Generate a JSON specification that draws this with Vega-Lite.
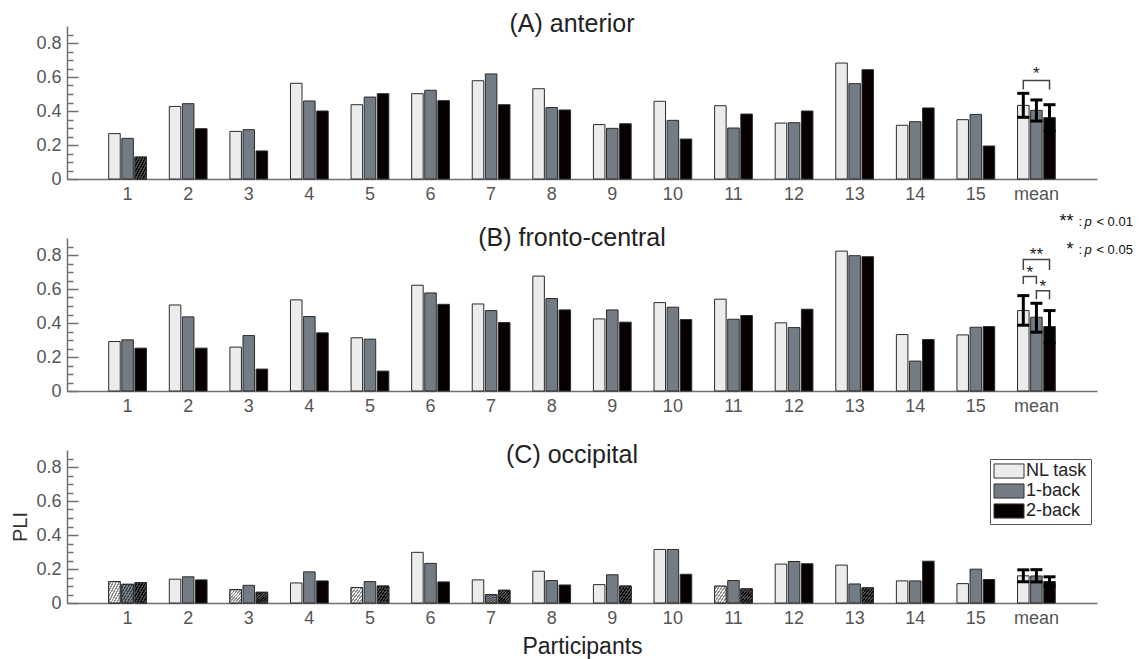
{
  "$schema": "https://vega.github.io/schema/vega-lite/v6.json",
  "padding": {"left": 10, "top": 12, "right": 5, "bottom": 3},
  "bounds": "flush",
  "spacing": 59,
  "resolve": {"scale": {"fill": "independent"}, "legend": {"fill": "independent"}},
  "config": {
    "view": {"stroke": null},
    "font": "Liberation Sans",
    "axis": {"labelFont": "Liberation Sans", "titleFont": "Liberation Sans", "titleFontWeight": "normal", "grid": false, "labelOverlap": false},
    "title": {"font": "Liberation Sans", "fontSize": 25, "fontWeight": "normal", "color": "#222222", "anchor": "middle", "frame": "group", "dx": -10}
  },
  "datasets": {
    "bars": [
      {"panel":"A","p":"1","cond":"NL task","v":0.267},{"panel":"A","p":"1","cond":"1-back","v":0.239},{"panel":"A","p":"1","cond":"2-back","v":0.129,"h":1},
      {"panel":"A","p":"2","cond":"NL task","v":0.427},{"panel":"A","p":"2","cond":"1-back","v":0.443},{"panel":"A","p":"2","cond":"2-back","v":0.296},
      {"panel":"A","p":"3","cond":"NL task","v":0.280},{"panel":"A","p":"3","cond":"1-back","v":0.290},{"panel":"A","p":"3","cond":"2-back","v":0.165},
      {"panel":"A","p":"4","cond":"NL task","v":0.563},{"panel":"A","p":"4","cond":"1-back","v":0.459},{"panel":"A","p":"4","cond":"2-back","v":0.400},
      {"panel":"A","p":"5","cond":"NL task","v":0.437},{"panel":"A","p":"5","cond":"1-back","v":0.482},{"panel":"A","p":"5","cond":"2-back","v":0.502},
      {"panel":"A","p":"6","cond":"NL task","v":0.502},{"panel":"A","p":"6","cond":"1-back","v":0.522},{"panel":"A","p":"6","cond":"2-back","v":0.461},
      {"panel":"A","p":"7","cond":"NL task","v":0.578},{"panel":"A","p":"7","cond":"1-back","v":0.618},{"panel":"A","p":"7","cond":"2-back","v":0.437},
      {"panel":"A","p":"8","cond":"NL task","v":0.531},{"panel":"A","p":"8","cond":"1-back","v":0.420},{"panel":"A","p":"8","cond":"2-back","v":0.406},
      {"panel":"A","p":"9","cond":"NL task","v":0.320},{"panel":"A","p":"9","cond":"1-back","v":0.298},{"panel":"A","p":"9","cond":"2-back","v":0.325},
      {"panel":"A","p":"10","cond":"NL task","v":0.457},{"panel":"A","p":"10","cond":"1-back","v":0.345},{"panel":"A","p":"10","cond":"2-back","v":0.235},
      {"panel":"A","p":"11","cond":"NL task","v":0.431},{"panel":"A","p":"11","cond":"1-back","v":0.300},{"panel":"A","p":"11","cond":"2-back","v":0.382},
      {"panel":"A","p":"12","cond":"NL task","v":0.329},{"panel":"A","p":"12","cond":"1-back","v":0.331},{"panel":"A","p":"12","cond":"2-back","v":0.400},
      {"panel":"A","p":"13","cond":"NL task","v":0.682},{"panel":"A","p":"13","cond":"1-back","v":0.561},{"panel":"A","p":"13","cond":"2-back","v":0.643},
      {"panel":"A","p":"14","cond":"NL task","v":0.316},{"panel":"A","p":"14","cond":"1-back","v":0.337},{"panel":"A","p":"14","cond":"2-back","v":0.418},
      {"panel":"A","p":"15","cond":"NL task","v":0.349},{"panel":"A","p":"15","cond":"1-back","v":0.380},{"panel":"A","p":"15","cond":"2-back","v":0.194},
      {"panel":"A","p":"mean","cond":"NL task","v":0.433},{"panel":"A","p":"mean","cond":"1-back","v":0.404},{"panel":"A","p":"mean","cond":"2-back","v":0.361},
      {"panel":"B","p":"1","cond":"NL task","v":0.291},{"panel":"B","p":"1","cond":"1-back","v":0.301},{"panel":"B","p":"1","cond":"2-back","v":0.252},
      {"panel":"B","p":"2","cond":"NL task","v":0.506},{"panel":"B","p":"2","cond":"1-back","v":0.436},{"panel":"B","p":"2","cond":"2-back","v":0.252},
      {"panel":"B","p":"3","cond":"NL task","v":0.258},{"panel":"B","p":"3","cond":"1-back","v":0.326},{"panel":"B","p":"3","cond":"2-back","v":0.129},
      {"panel":"B","p":"4","cond":"NL task","v":0.536},{"panel":"B","p":"4","cond":"1-back","v":0.438},{"panel":"B","p":"4","cond":"2-back","v":0.342},
      {"panel":"B","p":"5","cond":"NL task","v":0.313},{"panel":"B","p":"5","cond":"1-back","v":0.305},{"panel":"B","p":"5","cond":"2-back","v":0.117},
      {"panel":"B","p":"6","cond":"NL task","v":0.622},{"panel":"B","p":"6","cond":"1-back","v":0.577},{"panel":"B","p":"6","cond":"2-back","v":0.510},
      {"panel":"B","p":"7","cond":"NL task","v":0.512},{"panel":"B","p":"7","cond":"1-back","v":0.473},{"panel":"B","p":"7","cond":"2-back","v":0.403},
      {"panel":"B","p":"8","cond":"NL task","v":0.676},{"panel":"B","p":"8","cond":"1-back","v":0.544},{"panel":"B","p":"8","cond":"2-back","v":0.477},
      {"panel":"B","p":"9","cond":"NL task","v":0.424},{"panel":"B","p":"9","cond":"1-back","v":0.477},{"panel":"B","p":"9","cond":"2-back","v":0.405},
      {"panel":"B","p":"10","cond":"NL task","v":0.520},{"panel":"B","p":"10","cond":"1-back","v":0.493},{"panel":"B","p":"10","cond":"2-back","v":0.420},
      {"panel":"B","p":"11","cond":"NL task","v":0.540},{"panel":"B","p":"11","cond":"1-back","v":0.422},{"panel":"B","p":"11","cond":"2-back","v":0.444},
      {"panel":"B","p":"12","cond":"NL task","v":0.401},{"panel":"B","p":"12","cond":"1-back","v":0.373},{"panel":"B","p":"12","cond":"2-back","v":0.481},
      {"panel":"B","p":"13","cond":"NL task","v":0.823},{"panel":"B","p":"13","cond":"1-back","v":0.796},{"panel":"B","p":"13","cond":"2-back","v":0.790},
      {"panel":"B","p":"14","cond":"NL task","v":0.332},{"panel":"B","p":"14","cond":"1-back","v":0.176},{"panel":"B","p":"14","cond":"2-back","v":0.303},
      {"panel":"B","p":"15","cond":"NL task","v":0.330},{"panel":"B","p":"15","cond":"1-back","v":0.375},{"panel":"B","p":"15","cond":"2-back","v":0.379},
      {"panel":"B","p":"mean","cond":"NL task","v":0.473},{"panel":"B","p":"mean","cond":"1-back","v":0.434},{"panel":"B","p":"mean","cond":"2-back","v":0.379},
      {"panel":"C","p":"1","cond":"NL task","v":0.126,"h":1},{"panel":"C","p":"1","cond":"1-back","v":0.110,"h":1},{"panel":"C","p":"1","cond":"2-back","v":0.120,"h":1},
      {"panel":"C","p":"2","cond":"NL task","v":0.140},{"panel":"C","p":"2","cond":"1-back","v":0.154},{"panel":"C","p":"2","cond":"2-back","v":0.136},
      {"panel":"C","p":"3","cond":"NL task","v":0.079,"h":1},{"panel":"C","p":"3","cond":"1-back","v":0.104},{"panel":"C","p":"3","cond":"2-back","v":0.063,"h":1},
      {"panel":"C","p":"4","cond":"NL task","v":0.118},{"panel":"C","p":"4","cond":"1-back","v":0.183},{"panel":"C","p":"4","cond":"2-back","v":0.130},
      {"panel":"C","p":"5","cond":"NL task","v":0.091,"h":1},{"panel":"C","p":"5","cond":"1-back","v":0.126},{"panel":"C","p":"5","cond":"2-back","v":0.100,"h":1},
      {"panel":"C","p":"6","cond":"NL task","v":0.298},{"panel":"C","p":"6","cond":"1-back","v":0.233},{"panel":"C","p":"6","cond":"2-back","v":0.124},
      {"panel":"C","p":"7","cond":"NL task","v":0.136},{"panel":"C","p":"7","cond":"1-back","v":0.049,"h":1},{"panel":"C","p":"7","cond":"2-back","v":0.075,"h":1},
      {"panel":"C","p":"8","cond":"NL task","v":0.187},{"panel":"C","p":"8","cond":"1-back","v":0.132},{"panel":"C","p":"8","cond":"2-back","v":0.106},
      {"panel":"C","p":"9","cond":"NL task","v":0.108},{"panel":"C","p":"9","cond":"1-back","v":0.166},{"panel":"C","p":"9","cond":"2-back","v":0.100,"h":1},
      {"panel":"C","p":"10","cond":"NL task","v":0.315},{"panel":"C","p":"10","cond":"1-back","v":0.315},{"panel":"C","p":"10","cond":"2-back","v":0.169},
      {"panel":"C","p":"11","cond":"NL task","v":0.099,"h":1},{"panel":"C","p":"11","cond":"1-back","v":0.132},{"panel":"C","p":"11","cond":"2-back","v":0.083,"h":1},
      {"panel":"C","p":"12","cond":"NL task","v":0.229},{"panel":"C","p":"12","cond":"1-back","v":0.244},{"panel":"C","p":"12","cond":"2-back","v":0.231},
      {"panel":"C","p":"13","cond":"NL task","v":0.223},{"panel":"C","p":"13","cond":"1-back","v":0.112},{"panel":"C","p":"13","cond":"2-back","v":0.089,"h":1},
      {"panel":"C","p":"14","cond":"NL task","v":0.130},{"panel":"C","p":"14","cond":"1-back","v":0.130},{"panel":"C","p":"14","cond":"2-back","v":0.246},
      {"panel":"C","p":"15","cond":"NL task","v":0.114},{"panel":"C","p":"15","cond":"1-back","v":0.199},{"panel":"C","p":"15","cond":"2-back","v":0.138},
      {"panel":"C","p":"mean","cond":"NL task","v":0.160},{"panel":"C","p":"mean","cond":"1-back","v":0.159},{"panel":"C","p":"mean","cond":"2-back","v":0.127}
    ],
    "err": [
      {"panel":"A","p":"mean","cond":"NL task","lo":0.363,"hi":0.504},
      {"panel":"A","p":"mean","cond":"1-back","lo":0.341,"hi":0.465},
      {"panel":"A","p":"mean","cond":"2-back","lo":0.282,"hi":0.437},
      {"panel":"B","p":"mean","cond":"NL task","lo":0.387,"hi":0.561},
      {"panel":"B","p":"mean","cond":"1-back","lo":0.346,"hi":0.516},
      {"panel":"B","p":"mean","cond":"2-back","lo":0.285,"hi":0.473},
      {"panel":"C","p":"mean","cond":"NL task","lo":0.125,"hi":0.195},
      {"panel":"C","p":"mean","cond":"1-back","lo":0.124,"hi":0.196},
      {"panel":"C","p":"mean","cond":"2-back","lo":0.100,"hi":0.154}
    ],
    "brackets": [
      {"panel":"A","id":"a1","p":"mean","cond":"NL task","y":0.526,"ord":1},
      {"panel":"A","id":"a1","p":"mean","cond":"NL task","y":0.579,"ord":2},
      {"panel":"A","id":"a1","p":"mean","cond":"2-back","y":0.579,"ord":3},
      {"panel":"A","id":"a1","p":"mean","cond":"2-back","y":0.526,"ord":4},
      {"panel":"B","id":"b1","p":"mean","cond":"NL task","y":0.712,"ord":1},
      {"panel":"B","id":"b1","p":"mean","cond":"NL task","y":0.774,"ord":2},
      {"panel":"B","id":"b1","p":"mean","cond":"2-back","y":0.774,"ord":3},
      {"panel":"B","id":"b1","p":"mean","cond":"2-back","y":0.712,"ord":4},
      {"panel":"B","id":"b2","p":"mean","cond":"NL task","y":0.630,"ord":1},
      {"panel":"B","id":"b2","p":"mean","cond":"NL task","y":0.674,"ord":2},
      {"panel":"B","id":"b2","p":"mean","cond":"1-back","y":0.674,"ord":3},
      {"panel":"B","id":"b2","p":"mean","cond":"1-back","y":0.630,"ord":4},
      {"panel":"B","id":"b3","p":"mean","cond":"1-back","y":0.540,"ord":1},
      {"panel":"B","id":"b3","p":"mean","cond":"1-back","y":0.590,"ord":2},
      {"panel":"B","id":"b3","p":"mean","cond":"2-back","y":0.590,"ord":3},
      {"panel":"B","id":"b3","p":"mean","cond":"2-back","y":0.540,"ord":4}
    ],
    "stars": [
      {"panel":"A","p":"mean","cond":"1-back","y":0.615,"s":"*","between":0},
      {"panel":"B","p":"mean","cond":"1-back","y":0.800,"s":"**","between":0},
      {"panel":"B","p":"mean","cond":"NL task","y":0.697,"s":"*","between":1},
      {"panel":"B","p":"mean","cond":"1-back","y":0.610,"s":"*","between":1}
    ],
    "notes": [
      {"p":"mean","s":"**","r":"< 0.01","y":-0.255},
      {"p":"mean","s":"*","r":"< 0.05","y":-0.42}
    ]
  },
  "vconcat": [
    {
      "width": 1030, "height": 153,
      "title": {"text": "(A) anterior", "offset": -11},
      "resolve": {"axis": {"y": "independent"}},
      "layer": [
        {
          "data": {"name": "bars"},
          "transform": [{"filter": "datum.panel === 'A'"}],
          "mark": {"type": "bar", "stroke": "#2b2b2b", "strokeWidth": 1},
          "encoding": {
            "x": {"field": "p", "type": "nominal", "scale": {"domain": ["1","2","3","4","5","6","7","8","9","10","11","12","13","14","15","mean"], "paddingInner": 0.377, "paddingOuter": 0.6885},
              "axis": {"title": null, "ticks": false, "labelAngle": 0, "labelPadding": 6, "labelFontSize": 18, "labelColor": "#555555", "domainColor": "#707070", "domainWidth": 1.5}},
            "xOffset": {"field": "cond", "type": "nominal", "scale": {"domain": ["NL task","1-back","2-back"], "paddingInner": 0.12}},
            "y": {"field": "v", "type": "quantitative", "scale": {"domain": [0, 0.9], "nice": false},
              "axis": {"title": null, "orient": "left", "values": [0,0.2,0.4,0.6,0.8], "format": "~g", "tickSize": -11,
                "tickColor": "#707070", "tickWidth": 1.5, "domainColor": "#707070", "domainWidth": 1.5, "labelPadding": 17, "labelFontSize": 18, "labelColor": "#555555"}},
            "fill": {"field": "cond", "type": "nominal", "scale": {"domain": ["NL task","1-back","2-back"], "range": ["#ececec","#737c84","#060000"]}, "legend": null}
          }
        },
        {
          "data": {"name": "bars"},
          "transform": [{"filter": "datum.panel === 'A' && datum.h === 1"}],
          "mark": {"type": "bar", "stroke": "#2b2b2b", "strokeWidth": 1},
          "encoding": {
            "x": {"field": "p", "type": "nominal"},
            "xOffset": {"field": "cond", "type": "nominal"},
            "y": {"field": "v", "type": "quantitative", "axis": null},
            "fill": {"condition": [
              {"test": "datum.cond === 'NL task'", "value": {"gradient":"linear","x1":0,"y1":0,"x2":1,"y2":1,"stops":[{"offset":0,"color":"#efefef"},{"offset":0.0625,"color":"#efefef"},{"offset":0.0625,"color":"#8e8e8e"},{"offset":0.125,"color":"#8e8e8e"},{"offset":0.125,"color":"#efefef"},{"offset":0.1875,"color":"#efefef"},{"offset":0.1875,"color":"#8e8e8e"},{"offset":0.25,"color":"#8e8e8e"},{"offset":0.25,"color":"#efefef"},{"offset":0.3125,"color":"#efefef"},{"offset":0.3125,"color":"#8e8e8e"},{"offset":0.375,"color":"#8e8e8e"},{"offset":0.375,"color":"#efefef"},{"offset":0.4375,"color":"#efefef"},{"offset":0.4375,"color":"#8e8e8e"},{"offset":0.5,"color":"#8e8e8e"},{"offset":0.5,"color":"#efefef"},{"offset":0.5625,"color":"#efefef"},{"offset":0.5625,"color":"#8e8e8e"},{"offset":0.625,"color":"#8e8e8e"},{"offset":0.625,"color":"#efefef"},{"offset":0.6875,"color":"#efefef"},{"offset":0.6875,"color":"#8e8e8e"},{"offset":0.75,"color":"#8e8e8e"},{"offset":0.75,"color":"#efefef"},{"offset":0.8125,"color":"#efefef"},{"offset":0.8125,"color":"#8e8e8e"},{"offset":0.875,"color":"#8e8e8e"},{"offset":0.875,"color":"#efefef"},{"offset":0.9375,"color":"#efefef"},{"offset":0.9375,"color":"#8e8e8e"},{"offset":1,"color":"#8e8e8e"}]}},
              {"test": "datum.cond === '1-back'", "value": {"gradient":"linear","x1":0,"y1":0,"x2":1,"y2":1,"stops":[{"offset":0,"color":"#7b848c"},{"offset":0.0625,"color":"#7b848c"},{"offset":0.0625,"color":"#40454a"},{"offset":0.125,"color":"#40454a"},{"offset":0.125,"color":"#7b848c"},{"offset":0.1875,"color":"#7b848c"},{"offset":0.1875,"color":"#40454a"},{"offset":0.25,"color":"#40454a"},{"offset":0.25,"color":"#7b848c"},{"offset":0.3125,"color":"#7b848c"},{"offset":0.3125,"color":"#40454a"},{"offset":0.375,"color":"#40454a"},{"offset":0.375,"color":"#7b848c"},{"offset":0.4375,"color":"#7b848c"},{"offset":0.4375,"color":"#40454a"},{"offset":0.5,"color":"#40454a"},{"offset":0.5,"color":"#7b848c"},{"offset":0.5625,"color":"#7b848c"},{"offset":0.5625,"color":"#40454a"},{"offset":0.625,"color":"#40454a"},{"offset":0.625,"color":"#7b848c"},{"offset":0.6875,"color":"#7b848c"},{"offset":0.6875,"color":"#40454a"},{"offset":0.75,"color":"#40454a"},{"offset":0.75,"color":"#7b848c"},{"offset":0.8125,"color":"#7b848c"},{"offset":0.8125,"color":"#40454a"},{"offset":0.875,"color":"#40454a"},{"offset":0.875,"color":"#7b848c"},{"offset":0.9375,"color":"#7b848c"},{"offset":0.9375,"color":"#40454a"},{"offset":1,"color":"#40454a"}]}}
            ], "value": {"gradient":"linear","x1":0,"y1":0,"x2":1,"y2":1,"stops":[{"offset":0,"color":"#4d4d4d"},{"offset":0.0625,"color":"#4d4d4d"},{"offset":0.0625,"color":"#0a0a0a"},{"offset":0.125,"color":"#0a0a0a"},{"offset":0.125,"color":"#4d4d4d"},{"offset":0.1875,"color":"#4d4d4d"},{"offset":0.1875,"color":"#0a0a0a"},{"offset":0.25,"color":"#0a0a0a"},{"offset":0.25,"color":"#4d4d4d"},{"offset":0.3125,"color":"#4d4d4d"},{"offset":0.3125,"color":"#0a0a0a"},{"offset":0.375,"color":"#0a0a0a"},{"offset":0.375,"color":"#4d4d4d"},{"offset":0.4375,"color":"#4d4d4d"},{"offset":0.4375,"color":"#0a0a0a"},{"offset":0.5,"color":"#0a0a0a"},{"offset":0.5,"color":"#4d4d4d"},{"offset":0.5625,"color":"#4d4d4d"},{"offset":0.5625,"color":"#0a0a0a"},{"offset":0.625,"color":"#0a0a0a"},{"offset":0.625,"color":"#4d4d4d"},{"offset":0.6875,"color":"#4d4d4d"},{"offset":0.6875,"color":"#0a0a0a"},{"offset":0.75,"color":"#0a0a0a"},{"offset":0.75,"color":"#4d4d4d"},{"offset":0.8125,"color":"#4d4d4d"},{"offset":0.8125,"color":"#0a0a0a"},{"offset":0.875,"color":"#0a0a0a"},{"offset":0.875,"color":"#4d4d4d"},{"offset":0.9375,"color":"#4d4d4d"},{"offset":0.9375,"color":"#0a0a0a"},{"offset":1,"color":"#0a0a0a"}]}}
          }
        },
        {
          "data": {"name": "err"},
          "transform": [{"filter": "datum.panel === 'A'"}],
          "mark": {"type": "rule", "color": "#000000", "strokeWidth": 3},
          "encoding": {
            "x": {"field": "p", "type": "nominal"},
            "xOffset": {"field": "cond", "type": "nominal"},
            "y": {"field": "lo", "type": "quantitative",
              "axis": {"title": null, "orient": "left", "values": [0.05,0.1,0.15,0.25,0.3,0.35,0.45,0.5,0.55,0.65,0.7,0.75,0.85], "labels": false, "domain": false, "tickSize": -6, "tickColor": "#707070", "tickWidth": 1.5}},
            "y2": {"field": "hi"}
          }
        },
        {
          "data": {"name": "err"},
          "transform": [{"filter": "datum.panel === 'A'"}],
          "mark": {"type": "tick", "color": "#000000", "thickness": 3, "size": 12, "opacity": 1},
          "encoding": {
            "x": {"field": "p", "type": "nominal"},
            "xOffset": {"field": "cond", "type": "nominal"},
            "y": {"field": "hi", "type": "quantitative", "axis": null}
          }
        },
        {
          "data": {"name": "err"},
          "transform": [{"filter": "datum.panel === 'A'"}],
          "mark": {"type": "tick", "color": "#000000", "thickness": 3, "size": 12, "opacity": 1},
          "encoding": {
            "x": {"field": "p", "type": "nominal"},
            "xOffset": {"field": "cond", "type": "nominal"},
            "y": {"field": "lo", "type": "quantitative", "axis": null}
          }
        },
        {
          "data": {"name": "brackets"},
          "transform": [{"filter": "datum.panel === 'A'"}],
          "mark": {"type": "line", "color": "#444444", "strokeWidth": 1.5},
          "encoding": {
            "x": {"field": "p", "type": "nominal"},
            "xOffset": {"field": "cond", "type": "nominal"},
            "y": {"field": "y", "type": "quantitative", "axis": null},
            "detail": {"field": "id"},
            "order": {"field": "ord"}
          }
        },
        {
          "data": {"name": "stars"},
          "transform": [{"filter": "datum.panel === 'A'"}],
          "mark": {"type": "text", "fontSize": 17, "color": "#222222", "baseline": "middle"},
          "encoding": {
            "x": {"field": "p", "type": "nominal"},
            "xOffset": {"field": "cond", "type": "nominal"},
            "y": {"field": "y", "type": "quantitative", "axis": null},
            "text": {"field": "s"}
          }
        },
        {
          "data": {"name": "notes"},
          "mark": {"type": "text", "fontSize": 18, "color": "#111111", "baseline": "middle", "align": "right", "dx": 37},
          "encoding": {
            "x": {"field": "p", "type": "nominal"},
            "y": {"field": "y", "type": "quantitative", "axis": null},
            "text": {"field": "s"}
          }
        },
        {
          "data": {"name": "notes"},
          "mark": {"type": "text", "fontSize": 13, "color": "#111111", "baseline": "middle", "align": "left", "dx": 42, "text": ":"},
          "encoding": {
            "x": {"field": "p", "type": "nominal"},
            "y": {"field": "y", "type": "quantitative", "axis": null}
          }
        },
        {
          "data": {"name": "notes"},
          "mark": {"type": "text", "fontSize": 13, "fontStyle": "italic", "color": "#111111", "baseline": "middle", "align": "left", "dx": 48, "text": "p"},
          "encoding": {
            "x": {"field": "p", "type": "nominal"},
            "y": {"field": "y", "type": "quantitative", "axis": null}
          }
        },
        {
          "data": {"name": "notes"},
          "mark": {"type": "text", "fontSize": 13, "color": "#111111", "baseline": "middle", "align": "left", "dx": 60},
          "encoding": {
            "x": {"field": "p", "type": "nominal"},
            "y": {"field": "y", "type": "quantitative", "axis": null},
            "text": {"field": "r"}
          }
        }
      ]
    },
    {
      "width": 1030, "height": 153,
      "title": {"text": "(B) fronto-central", "offset": -13},
      "resolve": {"axis": {"y": "independent"}},
      "layer": [
        {
          "data": {"name": "bars"},
          "transform": [{"filter": "datum.panel === 'B'"}],
          "mark": {"type": "bar", "stroke": "#2b2b2b", "strokeWidth": 1},
          "encoding": {
            "x": {"field": "p", "type": "nominal", "scale": {"domain": ["1","2","3","4","5","6","7","8","9","10","11","12","13","14","15","mean"], "paddingInner": 0.377, "paddingOuter": 0.6885},
              "axis": {"title": null, "ticks": false, "labelAngle": 0, "labelPadding": 6, "labelFontSize": 18, "labelColor": "#555555", "domainColor": "#707070", "domainWidth": 1.5}},
            "xOffset": {"field": "cond", "type": "nominal", "scale": {"domain": ["NL task","1-back","2-back"], "paddingInner": 0.12}},
            "y": {"field": "v", "type": "quantitative", "scale": {"domain": [0, 0.9], "nice": false},
              "axis": {"title": null, "orient": "left", "values": [0,0.2,0.4,0.6,0.8], "format": "~g", "tickSize": -11,
                "tickColor": "#707070", "tickWidth": 1.5, "domainColor": "#707070", "domainWidth": 1.5, "labelPadding": 17, "labelFontSize": 18, "labelColor": "#555555"}},
            "fill": {"field": "cond", "type": "nominal", "scale": {"domain": ["NL task","1-back","2-back"], "range": ["#ececec","#737c84","#060000"]}, "legend": null}
          }
        },
        {
          "data": {"name": "err"},
          "transform": [{"filter": "datum.panel === 'B'"}],
          "mark": {"type": "rule", "color": "#000000", "strokeWidth": 3},
          "encoding": {
            "x": {"field": "p", "type": "nominal"},
            "xOffset": {"field": "cond", "type": "nominal"},
            "y": {"field": "lo", "type": "quantitative",
              "axis": {"title": null, "orient": "left", "values": [0.05,0.1,0.15,0.25,0.3,0.35,0.45,0.5,0.55,0.65,0.7,0.75,0.85], "labels": false, "domain": false, "tickSize": -6, "tickColor": "#707070", "tickWidth": 1.5}},
            "y2": {"field": "hi"}
          }
        },
        {
          "data": {"name": "err"},
          "transform": [{"filter": "datum.panel === 'B'"}],
          "mark": {"type": "tick", "color": "#000000", "thickness": 3, "size": 12, "opacity": 1},
          "encoding": {
            "x": {"field": "p", "type": "nominal"},
            "xOffset": {"field": "cond", "type": "nominal"},
            "y": {"field": "hi", "type": "quantitative", "axis": null}
          }
        },
        {
          "data": {"name": "err"},
          "transform": [{"filter": "datum.panel === 'B'"}],
          "mark": {"type": "tick", "color": "#000000", "thickness": 3, "size": 12, "opacity": 1},
          "encoding": {
            "x": {"field": "p", "type": "nominal"},
            "xOffset": {"field": "cond", "type": "nominal"},
            "y": {"field": "lo", "type": "quantitative", "axis": null}
          }
        },
        {
          "data": {"name": "brackets"},
          "transform": [{"filter": "datum.panel === 'B'"}],
          "mark": {"type": "line", "color": "#444444", "strokeWidth": 1.5},
          "encoding": {
            "x": {"field": "p", "type": "nominal"},
            "xOffset": {"field": "cond", "type": "nominal"},
            "y": {"field": "y", "type": "quantitative", "axis": null},
            "detail": {"field": "id"},
            "order": {"field": "ord"}
          }
        },
        {
          "data": {"name": "stars"},
          "transform": [{"filter": "datum.panel === 'B' && datum.between === 0"}],
          "mark": {"type": "text", "fontSize": 17, "color": "#222222", "baseline": "middle"},
          "encoding": {
            "x": {"field": "p", "type": "nominal"},
            "xOffset": {"field": "cond", "type": "nominal"},
            "y": {"field": "y", "type": "quantitative", "axis": null},
            "text": {"field": "s"}
          }
        },
        {
          "data": {"name": "stars"},
          "transform": [{"filter": "datum.panel === 'B' && datum.between === 1"}],
          "mark": {"type": "text", "fontSize": 17, "color": "#222222", "baseline": "middle", "dx": 6.5},
          "encoding": {
            "x": {"field": "p", "type": "nominal"},
            "xOffset": {"field": "cond", "type": "nominal"},
            "y": {"field": "y", "type": "quantitative", "axis": null},
            "text": {"field": "s"}
          }
        }
      ]
    },
    {
      "width": 1030, "height": 153,
      "title": {"text": "(C) occipital", "offset": -18},
      "resolve": {"axis": {"y": "independent"}},
      "layer": [
        {
          "data": {"name": "bars"},
          "transform": [{"filter": "datum.panel === 'C'"}],
          "mark": {"type": "bar", "stroke": "#2b2b2b", "strokeWidth": 1},
          "encoding": {
            "x": {"field": "p", "type": "nominal", "scale": {"domain": ["1","2","3","4","5","6","7","8","9","10","11","12","13","14","15","mean"], "paddingInner": 0.377, "paddingOuter": 0.6885},
              "axis": {"title": "Participants", "titleFontSize": 23, "titleColor": "#222222", "titlePadding": 8, "ticks": false, "labelAngle": 0, "labelPadding": 6, "labelFontSize": 18, "labelColor": "#555555", "domainColor": "#707070", "domainWidth": 1.5}},
            "xOffset": {"field": "cond", "type": "nominal", "scale": {"domain": ["NL task","1-back","2-back"], "paddingInner": 0.12}},
            "y": {"field": "v", "type": "quantitative", "scale": {"domain": [0, 0.9], "nice": false},
              "axis": {"title": "PLI", "titleFontSize": 20, "titleColor": "#333333", "titlePadding": 5, "orient": "left", "values": [0,0.2,0.4,0.6,0.8], "format": "~g", "tickSize": -11,
                "tickColor": "#707070", "tickWidth": 1.5, "domainColor": "#707070", "domainWidth": 1.5, "labelPadding": 17, "labelFontSize": 18, "labelColor": "#555555"}},
            "fill": {"field": "cond", "type": "nominal", "scale": {"domain": ["NL task","1-back","2-back"], "range": ["#ececec","#737c84","#060000"]},
              "legend": {"orient": "none", "legendX": 923, "legendY": 9, "title": null, "strokeColor": "#555555", "fillColor": "#ffffff", "padding": 3,
                "symbolType": "M-2,-0.94H2V0.94H-2Z", "symbolSize": 225, "symbolStrokeColor": "#333333", "symbolStrokeWidth": 1, "symbolOpacity": 1,
                "symbolOffset": 7, "labelOffset": 8, "labelFontSize": 18, "labelFont": "Liberation Sans", "labelColor": "#222222", "rowPadding": 0}}
          }
        },
        {
          "data": {"name": "bars"},
          "transform": [{"filter": "datum.panel === 'C' && datum.h === 1"}],
          "mark": {"type": "bar", "stroke": "#2b2b2b", "strokeWidth": 1},
          "encoding": {
            "x": {"field": "p", "type": "nominal"},
            "xOffset": {"field": "cond", "type": "nominal"},
            "y": {"field": "v", "type": "quantitative", "axis": null},
            "fill": {"condition": [
              {"test": "datum.cond === 'NL task'", "value": {"gradient":"linear","x1":0,"y1":0,"x2":1,"y2":1,"stops":[{"offset":0,"color":"#efefef"},{"offset":0.0625,"color":"#efefef"},{"offset":0.0625,"color":"#8e8e8e"},{"offset":0.125,"color":"#8e8e8e"},{"offset":0.125,"color":"#efefef"},{"offset":0.1875,"color":"#efefef"},{"offset":0.1875,"color":"#8e8e8e"},{"offset":0.25,"color":"#8e8e8e"},{"offset":0.25,"color":"#efefef"},{"offset":0.3125,"color":"#efefef"},{"offset":0.3125,"color":"#8e8e8e"},{"offset":0.375,"color":"#8e8e8e"},{"offset":0.375,"color":"#efefef"},{"offset":0.4375,"color":"#efefef"},{"offset":0.4375,"color":"#8e8e8e"},{"offset":0.5,"color":"#8e8e8e"},{"offset":0.5,"color":"#efefef"},{"offset":0.5625,"color":"#efefef"},{"offset":0.5625,"color":"#8e8e8e"},{"offset":0.625,"color":"#8e8e8e"},{"offset":0.625,"color":"#efefef"},{"offset":0.6875,"color":"#efefef"},{"offset":0.6875,"color":"#8e8e8e"},{"offset":0.75,"color":"#8e8e8e"},{"offset":0.75,"color":"#efefef"},{"offset":0.8125,"color":"#efefef"},{"offset":0.8125,"color":"#8e8e8e"},{"offset":0.875,"color":"#8e8e8e"},{"offset":0.875,"color":"#efefef"},{"offset":0.9375,"color":"#efefef"},{"offset":0.9375,"color":"#8e8e8e"},{"offset":1,"color":"#8e8e8e"}]}},
              {"test": "datum.cond === '1-back'", "value": {"gradient":"linear","x1":0,"y1":0,"x2":1,"y2":1,"stops":[{"offset":0,"color":"#7b848c"},{"offset":0.0625,"color":"#7b848c"},{"offset":0.0625,"color":"#40454a"},{"offset":0.125,"color":"#40454a"},{"offset":0.125,"color":"#7b848c"},{"offset":0.1875,"color":"#7b848c"},{"offset":0.1875,"color":"#40454a"},{"offset":0.25,"color":"#40454a"},{"offset":0.25,"color":"#7b848c"},{"offset":0.3125,"color":"#7b848c"},{"offset":0.3125,"color":"#40454a"},{"offset":0.375,"color":"#40454a"},{"offset":0.375,"color":"#7b848c"},{"offset":0.4375,"color":"#7b848c"},{"offset":0.4375,"color":"#40454a"},{"offset":0.5,"color":"#40454a"},{"offset":0.5,"color":"#7b848c"},{"offset":0.5625,"color":"#7b848c"},{"offset":0.5625,"color":"#40454a"},{"offset":0.625,"color":"#40454a"},{"offset":0.625,"color":"#7b848c"},{"offset":0.6875,"color":"#7b848c"},{"offset":0.6875,"color":"#40454a"},{"offset":0.75,"color":"#40454a"},{"offset":0.75,"color":"#7b848c"},{"offset":0.8125,"color":"#7b848c"},{"offset":0.8125,"color":"#40454a"},{"offset":0.875,"color":"#40454a"},{"offset":0.875,"color":"#7b848c"},{"offset":0.9375,"color":"#7b848c"},{"offset":0.9375,"color":"#40454a"},{"offset":1,"color":"#40454a"}]}}
            ], "value": {"gradient":"linear","x1":0,"y1":0,"x2":1,"y2":1,"stops":[{"offset":0,"color":"#4d4d4d"},{"offset":0.0625,"color":"#4d4d4d"},{"offset":0.0625,"color":"#0a0a0a"},{"offset":0.125,"color":"#0a0a0a"},{"offset":0.125,"color":"#4d4d4d"},{"offset":0.1875,"color":"#4d4d4d"},{"offset":0.1875,"color":"#0a0a0a"},{"offset":0.25,"color":"#0a0a0a"},{"offset":0.25,"color":"#4d4d4d"},{"offset":0.3125,"color":"#4d4d4d"},{"offset":0.3125,"color":"#0a0a0a"},{"offset":0.375,"color":"#0a0a0a"},{"offset":0.375,"color":"#4d4d4d"},{"offset":0.4375,"color":"#4d4d4d"},{"offset":0.4375,"color":"#0a0a0a"},{"offset":0.5,"color":"#0a0a0a"},{"offset":0.5,"color":"#4d4d4d"},{"offset":0.5625,"color":"#4d4d4d"},{"offset":0.5625,"color":"#0a0a0a"},{"offset":0.625,"color":"#0a0a0a"},{"offset":0.625,"color":"#4d4d4d"},{"offset":0.6875,"color":"#4d4d4d"},{"offset":0.6875,"color":"#0a0a0a"},{"offset":0.75,"color":"#0a0a0a"},{"offset":0.75,"color":"#4d4d4d"},{"offset":0.8125,"color":"#4d4d4d"},{"offset":0.8125,"color":"#0a0a0a"},{"offset":0.875,"color":"#0a0a0a"},{"offset":0.875,"color":"#4d4d4d"},{"offset":0.9375,"color":"#4d4d4d"},{"offset":0.9375,"color":"#0a0a0a"},{"offset":1,"color":"#0a0a0a"}]}}
          }
        },
        {
          "data": {"name": "err"},
          "transform": [{"filter": "datum.panel === 'C'"}],
          "mark": {"type": "rule", "color": "#000000", "strokeWidth": 3},
          "encoding": {
            "x": {"field": "p", "type": "nominal"},
            "xOffset": {"field": "cond", "type": "nominal"},
            "y": {"field": "lo", "type": "quantitative",
              "axis": {"title": null, "orient": "left", "values": [0.05,0.1,0.15,0.25,0.3,0.35,0.45,0.5,0.55,0.65,0.7,0.75,0.85], "labels": false, "domain": false, "tickSize": -6, "tickColor": "#707070", "tickWidth": 1.5}},
            "y2": {"field": "hi"}
          }
        },
        {
          "data": {"name": "err"},
          "transform": [{"filter": "datum.panel === 'C'"}],
          "mark": {"type": "tick", "color": "#000000", "thickness": 3, "size": 12, "opacity": 1},
          "encoding": {
            "x": {"field": "p", "type": "nominal"},
            "xOffset": {"field": "cond", "type": "nominal"},
            "y": {"field": "hi", "type": "quantitative", "axis": null}
          }
        },
        {
          "data": {"name": "err"},
          "transform": [{"filter": "datum.panel === 'C'"}],
          "mark": {"type": "tick", "color": "#000000", "thickness": 3, "size": 12, "opacity": 1},
          "encoding": {
            "x": {"field": "p", "type": "nominal"},
            "xOffset": {"field": "cond", "type": "nominal"},
            "y": {"field": "lo", "type": "quantitative", "axis": null}
          }
        }
      ]
    }
  ]
}
